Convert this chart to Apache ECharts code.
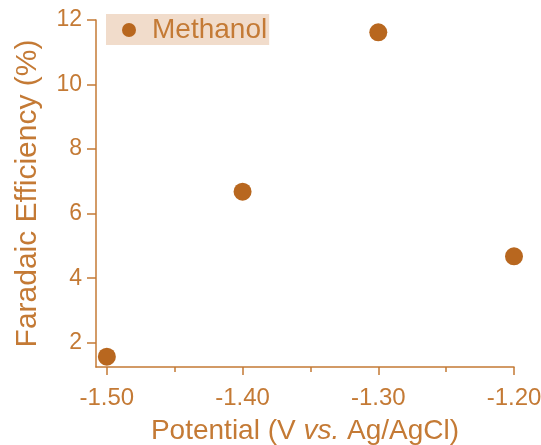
<!DOCTYPE html>
<html>
<head>
<meta charset="utf-8">
<script src="https://cdn.jsdelivr.net/npm/echarts@6/dist/echarts.min.js"></script>
<style>
  html, body { margin: 0; padding: 0; background: #fff; }
  #chart { width: 541px; height: 445px; }
</style>
</head>
<body>
<div id="chart"></div>
<script>
// 数据
const potential = [-1.5, -1.4, -1.3, -1.2]
const efficiency = [1.57, 6.68, 11.62, 4.68]
const xLabels = [-1.5, -1.4, -1.3, -1.2]
const xMinor = [-1.45, -1.35, -1.25]
const yLabels = [2, 4, 6, 8, 10, 12]

const brown = '#c47a35'
const dot = '#b8671f'
const font = 'Liberation Sans, Arial, sans-serif'

const mycharts = echarts.init(document.querySelector('#chart'))
const xMin = -1.508, xMax = -1.2
const option = {
  animation: false,
  grid: { left: 96, right: 27, top: 20, bottom: 78, outerBoundsMode: 'none', containLabel: false },
  legend: {
    left: 106,
    top: 14,
    padding: [2, 2, 1, 16],
    backgroundColor: '#f1dccb',
    itemWidth: 14,
    itemHeight: 14,
    itemGap: 0,
    textStyle: { color: brown, fontSize: 28, fontFamily: font, padding: [0, 0, 0, 11] },
    data: [{ name: 'Methanol', icon: 'circle', itemStyle: { color: dot } }]
  },
  xAxis: [
    {
      type: 'value',
      min: xMin,
      max: xMax,
      name: 'Potential (V {i|vs.} Ag/AgCl)',
      nameLocation: 'middle',
      nameGap: 50,
      nameTextStyle: {
        color: brown, fontSize: 28, fontFamily: font,
        rich: { i: { fontStyle: 'italic', fontSize: 28, color: brown, fontFamily: font } }
      },
      axisLine: { show: true, lineStyle: { color: brown, width: 1.5 } },
      axisTick: { show: true, length: 8, customValues: xLabels, lineStyle: { color: brown, width: 1.5 } },
      axisLabel: {
        customValues: xLabels, color: brown, fontSize: 24, fontFamily: font, margin: 19,
        formatter: v => v.toFixed(2)
      },
      splitLine: { show: false }
    },
    {
      type: 'value',
      min: xMin,
      max: xMax,
      position: 'bottom',
      axisLine: { show: false },
      axisTick: { show: true, length: 5, customValues: xMinor, lineStyle: { color: brown, width: 1.5 } },
      axisLabel: { show: false },
      splitLine: { show: false }
    }
  ],
  yAxis: {
    type: 'value',
    min: 1.25,
    max: 12,
    name: 'Faradaic Efficiency (%)',
    nameLocation: 'middle',
    nameGap: 53,
    nameTextStyle: { color: brown, fontSize: 30, fontFamily: font },
    axisLine: { show: true, lineStyle: { color: brown, width: 1.5 } },
    axisTick: { show: true, length: 9, customValues: yLabels, lineStyle: { color: brown, width: 1.5 } },
    axisLabel: { customValues: yLabels, color: brown, fontSize: 23, fontFamily: font, margin: 14 },
    splitLine: { show: false }
  },
  series: [
    {
      name: 'Methanol',
      type: 'scatter',
      symbolSize: 18,
      itemStyle: { color: dot, opacity: 1 },
      data: potential.map((p, i) => [p, efficiency[i]])
    }
  ]
}
mycharts.setOption(option)
</script>
</body>
</html>
